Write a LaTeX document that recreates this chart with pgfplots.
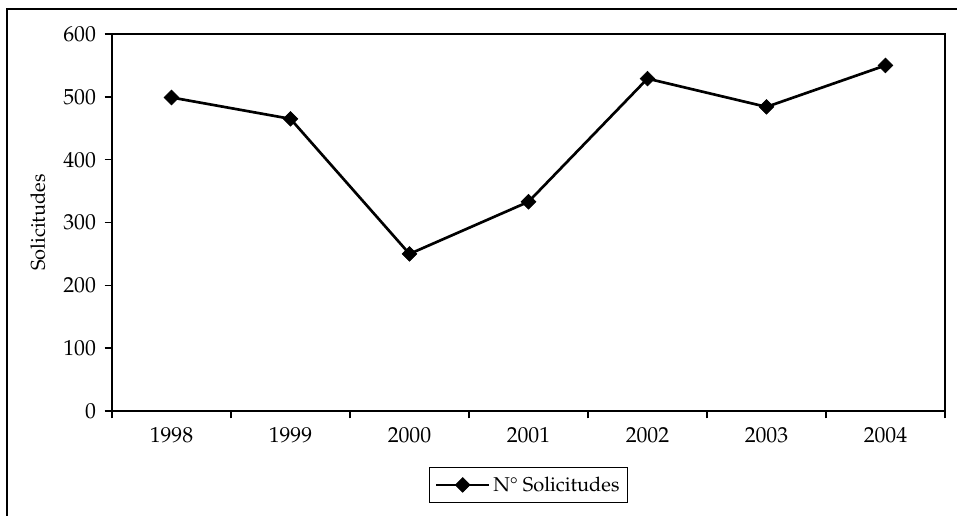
\documentclass[border=0pt]{standalone}
\usepackage[T1]{fontenc}
\usepackage{mathpazo}
\usepackage{pgfplots}
\pgfplotsset{compat=1.18}
\newcommand{\bigf}{\fontsize{15}{18}\selectfont}
\newcommand{\tickf}{\fontsize{16.3}{19}\selectfont}
\begin{document}
\begin{tikzpicture}[x=0.75pt,y=0.75pt, font=\bigf]
\path[use as bounding box] (0,0) rectangle (957,515);
\begin{scope}
\clip (0,0) rectangle (957,515);
\draw[line width=0.9pt] (7,-20) -- (7,506) -- (980,506);
\end{scope}
\begin{axis}[
  at={(84pt,78pt)}, anchor=south west,
  scale only axis, width=624.75pt, height=282.75pt,
  xmin=-0.5, xmax=6.5, ymin=0, ymax=600,
  xtick={0,...,6},
  xticklabels={1998,1999,2000,2001,2002,2003,2004},
  minor xtick={-0.5,0.5,...,6.5},
  ytick={0,100,...,600},
  axis line style={line width=1.4pt},
  tick style={line width=1.1pt, black},
  major x tick style={draw=none},
  tick align=outside,
  major tick length=5.5pt,
  minor tick length=5.5pt,
  xtick pos=bottom, ytick pos=left,
  tick label style={font=\tickf},
  label style={font=\bigf},
  x tick label style={yshift=-3.5pt},
  y tick label style={xshift=-3pt},
  ylabel={Solicitudes},
  ylabel style={at={(axis description cs:-0.089,0.5)}, anchor=center},
  legend style={at={(0.5,-0.196)}, anchor=center, draw=black, line width=1.1pt,
    inner xsep=4pt, inner ysep=5pt, font=\bigf},
  legend cell align=left,
  legend image code/.code={\draw[#1, mark repeat=2, mark phase=2] plot coordinates {(0cm,0cm) (0.7cm,0cm) (1.4cm,0cm)};},
]
\addplot[black, line width=2pt, mark=square*, mark size=3.9pt, mark options={rotate=45, solid, line width=0.5pt}]
  coordinates {(0,499) (1,465) (2,250) (3,333) (4,529) (5,484) (6,550)};
\addlegendentry{N\textdegree{} Solicitudes\hspace{7pt}}
\end{axis}
\end{tikzpicture}
\end{document}
